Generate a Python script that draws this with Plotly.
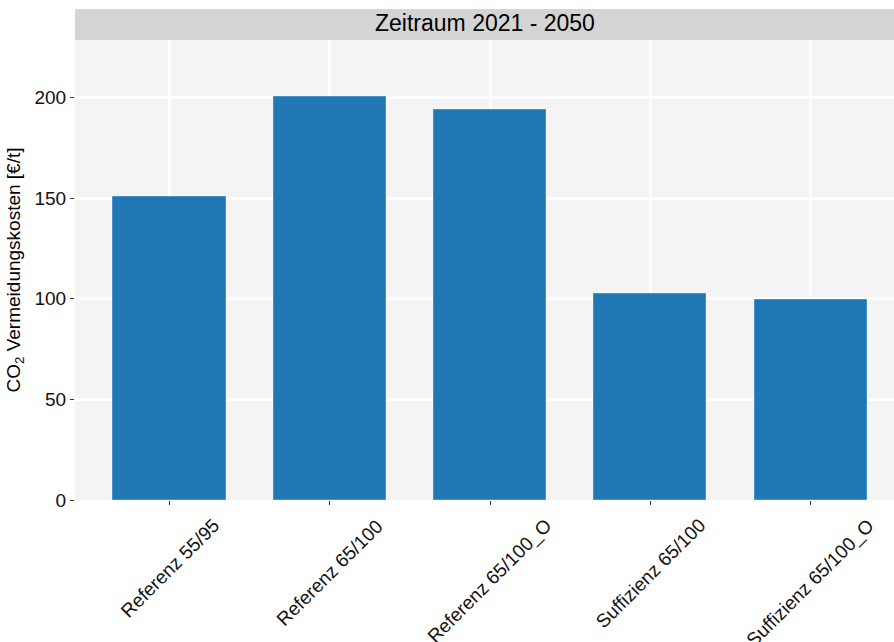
import plotly.graph_objects as go

categories = ["Referenz 55/95", "Referenz 65/100", "Referenz 65/100_O",
              "Suffizienz 65/100", "Suffizienz 65/100_O"]
values = [150.8, 200.5, 193.7, 102.4, 99.4]
y_ticks = [0, 50, 100, 150, 200]

FONT = "Liberation Sans, Arial, sans-serif"
PANEL_TOP, PANEL_BOTTOM = 40, 500
PANEL_H = PANEL_BOTTOM - PANEL_TOP

fig = go.Figure()
fig.add_trace(go.Bar(
    x=list(range(len(categories))), y=values, width=0.7,
    marker=dict(color="#1F77B4", line=dict(color="#4A90C8", width=1)),
    showlegend=False,
))

fig.update_layout(
    width=894, height=642,
    margin=dict(l=75, r=0, t=PANEL_TOP, b=642 - PANEL_BOTTOM),
    paper_bgcolor="white", plot_bgcolor="#F4F4F4",
    font=dict(family=FONT, size=19, color="black"),
    bargap=0,
)
fig.update_xaxes(
    range=[-0.59, 4.52], tickmode="array",
    tickvals=list(range(len(categories))), ticktext=[""] * len(categories),
    showgrid=True, gridcolor="white", gridwidth=2.6,
    ticks="outside", ticklen=4, tickcolor="#333333", tickwidth=1,
    zeroline=False, showline=False,
)
fig.update_yaxes(
    range=[0, 228.6], tickmode="array", tickvals=y_ticks,
    showgrid=True, gridcolor="white", gridwidth=2.6,
    ticks="outside", ticklen=4, tickcolor="#333333", tickwidth=1,
    zeroline=False, showline=False,
    tickfont=dict(family=FONT, size=19, color="#111111"),
    title=dict(text="CO<sub>2</sub> Vermeidungskosten [€/t]",
               font=dict(family=FONT, size=19, color="black"), standoff=8),
)

# rotated category labels, centred under each tick
for i, cat in enumerate(categories):
    fig.add_annotation(text=cat, x=i, xref="x", yref="paper",
                       y=-12 / PANEL_H, textangle=-45, showarrow=False,
                       xanchor="center", yanchor="top",
                       font=dict(family=FONT, size=19, color="#111111"))

# facet strip
fig.add_shape(type="rect", xref="paper", yref="paper",
              x0=0, x1=1, y0=1, y1=1 + 31 / PANEL_H,
              fillcolor="#D4D4D4", line=dict(width=0), layer="above")
fig.add_annotation(text="Zeitraum 2021 - 2050", xref="paper", yref="paper",
                   x=0.5, y=1 + 17 / PANEL_H, showarrow=False,
                   xanchor="center", yanchor="middle",
                   font=dict(family=FONT, size=23, color="black"))

fig.write_html("out.html", config={"displayModeBar": False},
               post_script="document.body.style.margin='0';"
                           "document.body.style.overflow='hidden';")
